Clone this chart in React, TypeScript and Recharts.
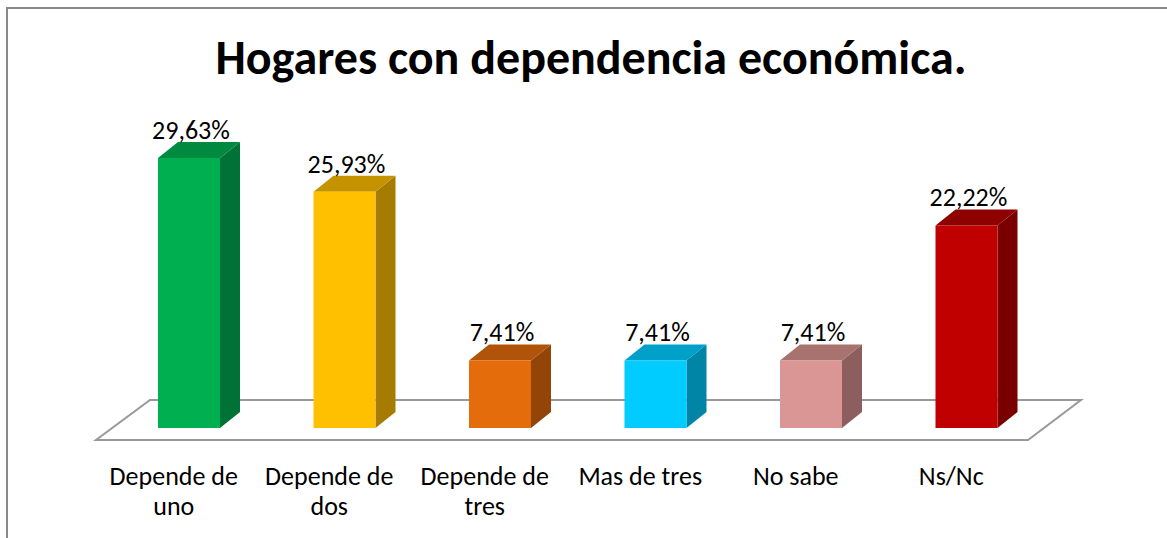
import React from "react";
import { Bar, BarChart, LabelList, XAxis, YAxis } from "recharts";

const categories = ["Depende de uno", "Depende de dos", "Depende de tres", "Mas de tres", "No sabe", "Ns/Nc"];
const percentages = [29.63, 25.93, 7.41, 7.41, 7.41, 22.22];
const frontColors = ["#00B050", "#FFC000", "#E46C0A", "#00CCFF", "#D99694", "#C00000"];
const sideColors = ["#007236", "#A67C00", "#934407", "#0085A6", "#8C5F5E", "#7A0000"];
const topColors = ["#008A3F", "#C59300", "#B15308", "#00A0C8", "#A8726F", "#8F0000"];

const W = 1167;
const H = 538;
const M = { top: 109, right: 123, bottom: 30, left: 111 };
const AXIS_H = 80;
const PLOT_BOTTOM = H - M.bottom - AXIS_H; // 428
const PLOT_LEFT = M.left;
const PLOT_RIGHT = W - M.right;
const DX = 20;
const DY = 16;
const FONT = "Carlito, Calibri, Lato, sans-serif";
const LABEL_SIZE = 26;
const MAX_CHARS = 12;

const chartData = categories.map((name, i) => ({
  name,
  value: percentages[i],
  front: frontColors[i],
  side: sideColors[i],
  top: topColors[i],
}));

const fmt = (v: number) => v.toFixed(2).replace(".", ",") + "%";

// greedy word wrap by character count
function wrap(label: string) {
  const lines: string[] = [];
  let cur = "";
  for (const w of label.split(" ")) {
    const next = cur ? cur + " " + w : w;
    if (next.length > MAX_CHARS && cur) {
      lines.push(cur);
      cur = w;
    } else {
      cur = next;
    }
  }
  if (cur) lines.push(cur);
  return lines;
}

function Bar3D(props: any) {
  const { x, y, width, height, payload } = props;
  if (width == null || height == null) return null;
  const r = x + width;
  const b = y + height;
  return (
    <g>
      <polygon points={`${r},${y} ${r + DX},${y - DY} ${r + DX},${b - DY} ${r},${b}`} fill={payload.side} />
      <polygon points={`${x},${y} ${x + DX},${y - DY} ${r + DX},${y - DY} ${r},${y}`} fill={payload.top} />
      <rect x={x} y={y} width={width} height={height} fill={payload.front} />
    </g>
  );
}

function ValueLabel(props: any) {
  const { x, y, width, value } = props;
  return (
    <text
      x={x + width / 2 + 2}
      y={y - DY - 3}
      textAnchor="middle"
      fontFamily={FONT}
      fontSize={LABEL_SIZE}
      fill="#000"
    >
      {fmt(Number(value))}
    </text>
  );
}

function CategoryTick(props: any) {
  const { x, payload } = props;
  const lines = wrap(String(payload.value));
  return (
    <text
      x={x - 15}
      y={PLOT_BOTTOM + 57}
      textAnchor="middle"
      fontFamily={FONT}
      fontSize={LABEL_SIZE}
      fill="#000"
    >
      {lines.map((l, i) => (
        <tspan key={i} x={x - 15} dy={i === 0 ? 0 : 30}>
          {l}
        </tspan>
      ))}
    </text>
  );
}

export default function App() {
  return (
    <div style={{ position: "absolute", left: 0, top: 0, width: W, height: H, background: "#fff", overflow: "hidden" }}>
      <svg width={W} height={H} style={{ position: "absolute", left: 0, top: 0 }}>
        <line x1={6} y1={8} x2={W} y2={8} stroke="#888" strokeWidth={2} />
        <line x1={7} y1={7} x2={7} y2={H} stroke="#888" strokeWidth={2} />
        <text
          x={591}
          y={74}
          textAnchor="middle"
          fontFamily={FONT}
          fontWeight="bold"
          fontSize={48}
          fill="#000"
        >
          Hogares con dependencia económica.
        </text>
        <polygon
          points={`${PLOT_LEFT + 39},${PLOT_BOTTOM - 28} ${PLOT_RIGHT + 37},${PLOT_BOTTOM - 28} ${PLOT_RIGHT - 16},${PLOT_BOTTOM + 12} ${PLOT_LEFT - 15},${PLOT_BOTTOM + 12}`}
          fill="none"
          stroke="#999"
          strokeWidth={2}
        />
      </svg>
      <div style={{ position: "absolute", left: 0, top: 0 }}>
        <BarChart width={W} height={H} data={chartData} margin={M}>
          <XAxis
            dataKey="name"
            height={AXIS_H}
            axisLine={false}
            tickLine={false}
            interval={0}
            tick={<CategoryTick />}
          />
          <YAxis hide domain={[0, 35]} />
          <Bar dataKey="value" barSize={62} shape={<Bar3D />} isAnimationActive={false}>
            <LabelList dataKey="value" content={<ValueLabel />} />
          </Bar>
        </BarChart>
      </div>
    </div>
  );
}
